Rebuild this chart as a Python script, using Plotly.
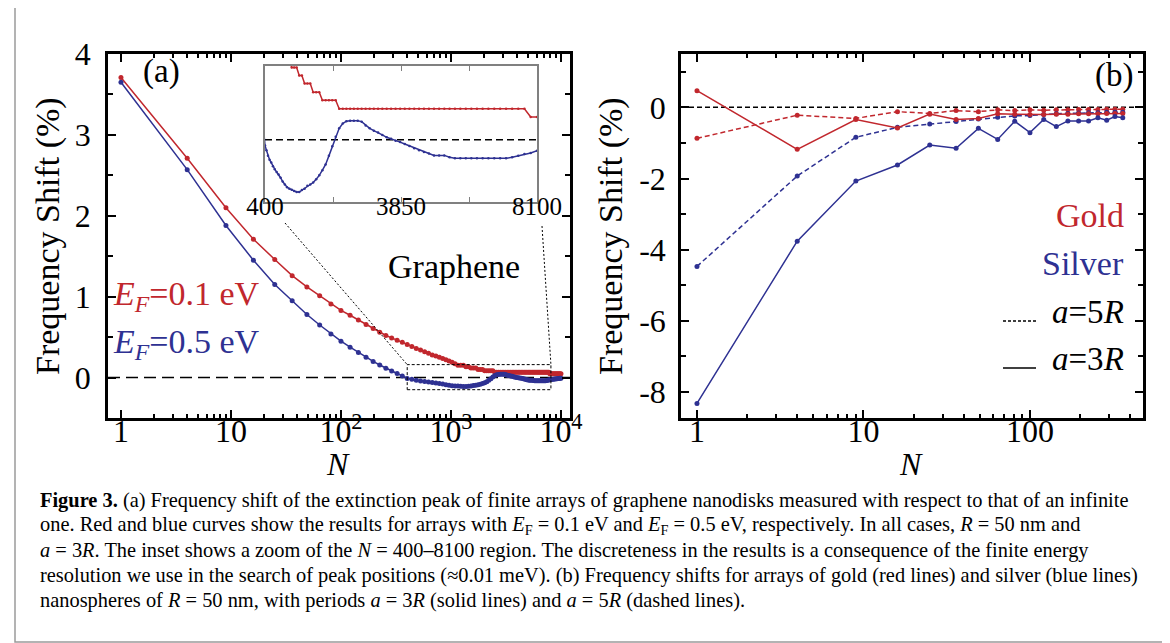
import math
import plotly.graph_objects as go

W, H = 1170, 643
FONT = "Liberation Serif"
RED = "#C1272D"
BLUE = "#2E3192"

# ---------------- Panel (a): graphene nanodisk arrays ----------------
n_a = list(range(1, 101))
N_a = [n * n for n in n_a]
shift_ef01 = [3.71, 2.71, 2.10, 1.71, 1.46, 1.26, 1.12, 1.01, 0.91, 0.83,
              0.77, 0.71, 0.655, 0.605, 0.56, 0.52, 0.49, 0.46, 0.435, 0.41,
              0.385, 0.36, 0.34, 0.32, 0.30, 0.28, 0.265, 0.25, 0.235, 0.22,
              0.205, 0.19, 0.17, 0.152, 0.152, 0.152, 0.135, 0.135, 0.118, 0.118,
              0.118, 0.100, 0.100, 0.100, 0.083, 0.083, 0.083, 0.083, 0.083, 0.065,
              0.065, 0.065, 0.065, 0.065, 0.065, 0.065, 0.065, 0.065, 0.065, 0.065,
              0.065, 0.065, 0.065, 0.065, 0.065, 0.065, 0.065, 0.065, 0.065, 0.065,
              0.065, 0.065, 0.065, 0.065, 0.065, 0.065, 0.065, 0.065, 0.065, 0.065,
              0.065, 0.065, 0.065, 0.065, 0.065, 0.065, 0.065, 0.065, 0.048, 0.048,
              0.048, 0.048, 0.048, 0.048, 0.048, 0.048, 0.048, 0.048, 0.048, 0.048]
shift_ef05 = [3.65, 2.57, 1.88, 1.45, 1.15, 0.95, 0.78, 0.65, 0.54, 0.45,
              0.375, 0.31, 0.25, 0.20, 0.155, 0.115, 0.08, 0.05, 0.02, -0.012,
              -0.022, -0.034, -0.042, -0.048, -0.056, -0.062, -0.068, -0.073, -0.080, -0.088,
              -0.094, -0.100, -0.103, -0.105, -0.108, -0.110, -0.110, -0.106, -0.103, -0.097,
              -0.094, -0.090, -0.083, -0.075, -0.064, -0.052, -0.034, -0.014, 0.006, 0.024,
              0.034, 0.039, 0.040, 0.040, 0.040, 0.038, 0.030, 0.024, 0.019, 0.015,
              0.010, 0.005, 0.002, -0.002, -0.005, -0.009, -0.013, -0.018, -0.022, -0.026,
              -0.029, -0.033, -0.033, -0.033, -0.037, -0.039, -0.039, -0.039, -0.039, -0.039,
              -0.039, -0.039, -0.039, -0.039, -0.039, -0.037, -0.034, -0.030, -0.028, -0.023,
              -0.022, -0.020, -0.019, -0.017, -0.016, -0.014, -0.013, -0.011, -0.010, -0.008]

xa_tickvals = [1, 10, 100, 1000, 10000]
xa_ticktext = ["1", "10", "10<sup>2</sup>", "10<sup>3</sup>", "10<sup>4</sup>"]
xa_minor = [m * d for d in (1, 10, 100, 1000) for m in range(2, 10)]
ya_tickvals = [0, 1, 2, 3, 4]
ya_minor = [0.5, 1.5, 2.5, 3.5]

# inset (zoom of N = 400-8100)
inset_xrange = [400, 8100]
inset_yrange = [-0.131, 0.155]
inset_tickvals = [400, 2325, 4250, 6175, 8100]
inset_ticktext = ["400", "", "3850", "", "8100"]
box_y = [-0.15, 0.16]

# ---------------- Panel (b): gold / silver nanospheres ----------------
n_b = list(range(1, 20))
N_b = [n * n for n in n_b]
gold_3R = [0.47, -1.18, -0.34, -0.58, -0.19, -0.34, -0.31, -0.18, -0.19, -0.20,
           -0.20, -0.19, -0.19, -0.18, -0.18, -0.18, -0.17, -0.17, -0.17]
gold_5R = [-0.87, -0.22, -0.31, -0.12, -0.17, -0.09, -0.12, -0.07, -0.09, -0.07,
           -0.08, -0.07, -0.07, -0.06, -0.06, -0.06, -0.05, -0.05, -0.05]
silver_3R = [-8.32, -3.76, -2.07, -1.62, -1.06, -1.15, -0.59, -0.90, -0.39, -0.71,
             -0.34, -0.54, -0.38, -0.38, -0.38, -0.29, -0.36, -0.26, -0.29]
silver_5R = [-4.47, -1.93, -0.84, -0.56, -0.47, -0.40, -0.33, -0.28, -0.24, -0.23,
             -0.20, -0.18, -0.17, -0.16, -0.15, -0.15, -0.14, -0.14, -0.14]

xb_tickvals = [1, 10, 100]
xb_minor = [m * d for d in (1, 10) for m in range(2, 10)] + [200, 300, 400]
yb_tickvals = [-8, -6, -4, -2, 0]
yb_ticktext = ["-8", "-6", "-4", "-2", "0"]
yb_minor = [-7, -5, -3, -1, 1]

# ---------------- geometry (pixels) ----------------
A_L, A_R, TOP, BOT = 100, 562, 46, 410
B_L, B_R = 673, 1135
I_L, I_R, I_T, I_B = 257, 529, 58, 194
xa_range = [-0.118, 4.082]
ya_range = [-0.5, 4.0]
xb_range = [-0.096, 2.679]
yb_range = [-8.73, 1.5]
DY = -9  # vertical correction for annotation anchors


def px(x):
    return x / W


def py(y):
    return 1 - y / H


def a_pix(N, v):
    x = A_L + (math.log10(N) - xa_range[0]) / (xa_range[1] - xa_range[0]) * (A_R - A_L)
    y = BOT - (v - ya_range[0]) / (ya_range[1] - ya_range[0]) * (BOT - TOP)
    return x, y


fig = go.Figure()

# panel (a) main curves
fig.add_trace(go.Scatter(x=N_a, y=shift_ef01, mode="lines+markers",
                         line=dict(color=RED, width=1.5), marker=dict(color=RED, size=5),
                         xaxis="x", yaxis="y", showlegend=False))
fig.add_trace(go.Scatter(x=N_a, y=shift_ef05, mode="lines+markers",
                         line=dict(color=BLUE, width=1.5), marker=dict(color=BLUE, size=5),
                         xaxis="x", yaxis="y", showlegend=False))
# zoom box
fig.add_trace(go.Scatter(x=[inset_xrange[0], inset_xrange[1], inset_xrange[1], inset_xrange[0], inset_xrange[0]],
                         y=[box_y[0], box_y[0], box_y[1], box_y[1], box_y[0]], mode="lines",
                         line=dict(color="black", width=1, dash="3px,2px"),
                         xaxis="x", yaxis="y", showlegend=False, hoverinfo="skip"))

# inset curves
fig.add_trace(go.Scatter(x=N_a, y=shift_ef01, mode="lines+markers",
                         line=dict(color=RED, width=1.5), marker=dict(color=RED, size=2.5),
                         xaxis="x3", yaxis="y3", showlegend=False))
fig.add_trace(go.Scatter(x=N_a, y=shift_ef05, mode="lines+markers",
                         line=dict(color=BLUE, width=1.5), marker=dict(color=BLUE, size=2.5),
                         xaxis="x3", yaxis="y3", showlegend=False))

# panel (b)
for vals, col, dash in [(gold_5R, RED, "5px,3px"), (silver_5R, BLUE, "5px,3px"),
                        (gold_3R, RED, "solid"), (silver_3R, BLUE, "solid")]:
    fig.add_trace(go.Scatter(x=N_b, y=vals, mode="lines+markers",
                             line=dict(color=col, width=1.5, dash=dash),
                             marker=dict(color=col, size=5),
                             xaxis="x2", yaxis="y2", showlegend=False))

tickfont = dict(family=FONT, size=32, color="black")
common = dict(showline=True, linecolor="black", linewidth=2.5, mirror="allticks",
              ticks="inside", tickwidth=2, ticklen=8, tickcolor="black",
              showgrid=False, zeroline=False, tickfont=tickfont, automargin=False)

shapes = [
    # zero lines
    dict(type="line", xref="x domain", yref="y", x0=0, x1=1, y0=0, y1=0,
         line=dict(color="black", width=1.5, dash="12px,6px"), layer="below"),
    dict(type="line", xref="x2 domain", yref="y2", x0=0, x1=1, y0=0, y1=0,
         line=dict(color="black", width=1.5, dash="5px,3px"), layer="below"),
    dict(type="line", xref="x3 domain", yref="y3", x0=0, x1=1, y0=0, y1=0,
         line=dict(color="black", width=1.5, dash="7px,4px"), layer="below"),
]
# connectors from inset to zoom box
cl = a_pix(inset_xrange[0], box_y[1])
cr = a_pix(inset_xrange[1], box_y[1])
shapes.append(dict(type="line", xref="paper", yref="paper", x0=px(277), y0=py(215),
                   x1=px(cl[0]), y1=py(cl[1]), line=dict(color="black", width=1, dash="2px,2px")))
shapes.append(dict(type="line", xref="paper", yref="paper", x0=px(534), y0=py(218),
                   x1=px(cr[0]), y1=py(cr[1]), line=dict(color="black", width=1, dash="2px,2px")))
# legend samples panel (b)
shapes.append(dict(type="line", xref="paper", yref="paper", x0=px(995), x1=px(1028),
                   y0=py(313), y1=py(313), line=dict(color="black", width=1.5, dash="3px,2px")))
shapes.append(dict(type="line", xref="paper", yref="paper", x0=px(995), x1=px(1028),
                   y0=py(360), y1=py(360), line=dict(color="black", width=1.5)))
# figure frame
shapes.append(dict(type="rect", xref="paper", yref="paper", x0=px(7), x1=px(1163),
                   y0=py(634), y1=py(-5), line=dict(color="#9a9a9a", width=1.5)))


def ann(text, x, y, size=33, color="black", xanchor="center", yanchor="middle", angle=0):
    return dict(text=text, x=px(x), y=py(y + DY), xref="paper", yref="paper", showarrow=False,
                xanchor=xanchor, yanchor=yanchor, textangle=angle,
                font=dict(family=FONT, size=size, color=color))


def vann(text, x, y, size=34):
    return dict(text=text, x=px(x), y=py(y), xref="paper", yref="paper", showarrow=False,
                xanchor="center", yanchor="middle", textangle=-90,
                font=dict(family=FONT, size=size, color="black"))


annotations = [
    vann("Frequency Shift (%)", 40, 228),
    vann("Frequency Shift (%)", 603, 228),
    ann("<i>N</i>", 330, 465, size=32),
    ann("<i>N</i>", 903, 465, size=32),
    ann("(a)", 153, 73, size=33),
    ann("(b)", 1106, 76, size=33),
    ann("Graphene", 446, 268, size=34),
    ann("<i>E</i><sub><i>F</i></sub>=0.1 eV", 103, 297, size=34, color=RED, xanchor="left"),
    ann("<i>E</i><sub><i>F</i></sub>=0.5 eV", 103, 345, size=34, color=BLUE, xanchor="left"),
    ann("Gold", 1118, 216, size=34, color=RED, xanchor="right"),
    ann("Silver", 1118, 264, size=34, color=BLUE, xanchor="right"),
    ann("<i>a</i>=5<i>R</i>", 1118, 313, size=33, xanchor="right"),
    ann("<i>a</i>=3<i>R</i>", 1118, 360, size=33, xanchor="right"),
]

caption_lines = [
    "<b>Figure 3.</b> (a) Frequency shift of the extinction peak of finite arrays of graphene nanodisks measured with respect to that of an infinite",
    "one. Red and blue curves show the results for arrays with <i>E</i><sub>F</sub> = 0.1 eV and <i>E</i><sub>F</sub> = 0.5 eV, respectively. In all cases, <i>R</i> = 50 nm and",
    "<i>a</i> = 3<i>R</i>. The inset shows a zoom of the <i>N</i> = 400–8100 region. The discreteness in the results is a consequence of the finite energy",
    "resolution we use in the search of peak positions (≈0.01 meV). (b) Frequency shifts for arrays of gold (red lines) and silver (blue lines)",
    "nanospheres of <i>R</i> = 50 nm, with periods <i>a</i> = 3<i>R</i> (solid lines) and <i>a</i> = 5<i>R</i> (dashed lines).",
]
for i, line in enumerate(caption_lines):
    annotations.append(ann(line, 30, 501 + 25 * i, size=20.4, xanchor="left"))

fig.update_layout(
    template="none",
    width=W, height=H, margin=dict(l=0, r=0, t=0, b=0, autoexpand=False),
    paper_bgcolor="white", plot_bgcolor="rgba(0,0,0,0)",
    showlegend=False,
    xaxis=dict(type="log", range=xa_range, domain=[px(A_L), px(A_R)], anchor="y",
               tickvals=xa_tickvals, ticktext=xa_ticktext, ticklabelstandoff=-17,
               minor=dict(tickmode="array", tickvals=xa_minor, ticks="inside", ticklen=4,
                          tickwidth=1.5, tickcolor="black", showgrid=False), **common),
    yaxis=dict(range=ya_range, domain=[py(BOT), py(TOP)], anchor="x",
               tickvals=ya_tickvals, ticklabelstandoff=8,
               minor=dict(tickmode="array", tickvals=ya_minor, ticks="inside", ticklen=5,
                          tickwidth=1.5, tickcolor="black", showgrid=False), **common),
    xaxis2=dict(type="log", range=xb_range, domain=[px(B_L), px(B_R)], anchor="y2",
                tickvals=xb_tickvals, ticklabelstandoff=-17,
                minor=dict(tickmode="array", tickvals=xb_minor, ticks="inside", ticklen=4,
                           tickwidth=1.5, tickcolor="black", showgrid=False), **common),
    yaxis2=dict(range=yb_range, domain=[py(BOT), py(TOP)], anchor="x2",
                tickvals=yb_tickvals, ticktext=yb_ticktext, ticklabelstandoff=6,
                minor=dict(tickmode="array", tickvals=yb_minor, ticks="inside", ticklen=5,
                           tickwidth=1.5, tickcolor="black", showgrid=False), **common),
    xaxis3=dict(range=inset_xrange, domain=[px(I_L), px(I_R)], anchor="y3",
                showline=True, linecolor="#808080", linewidth=1.5, mirror="allticks",
                ticks="inside", ticklen=5, tickwidth=1, tickcolor="#808080",
                tickvals=inset_tickvals, ticktext=inset_ticktext, ticklabelstandoff=-19,
                tickfont=dict(family=FONT, size=25, color="black"),
                showgrid=False, zeroline=False, automargin=False),
    yaxis3=dict(range=inset_yrange, domain=[py(I_B), py(I_T)], anchor="x3",
                showline=True, linecolor="#808080", linewidth=1.5, mirror=True,
                ticks="", showticklabels=False, showgrid=False, zeroline=False,
                automargin=False),
    shapes=shapes,
    annotations=annotations,
)

fig.write_html("out.html")
